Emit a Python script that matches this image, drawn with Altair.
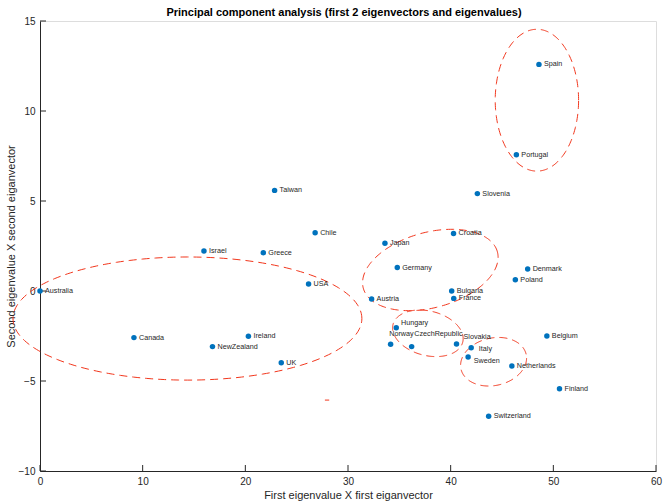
import altair as alt
import pandas as pd
import numpy as np

# ---------------- data ----------------
countries = ["Australia", "Canada", "Ireland", "NewZealand", "UK", "Israel", "Greece",
             "Taiwan", "Chile", "USA", "Japan", "Germany", "Austria", "Croatia",
             "Slovenia", "Bulgaria", "France", "Denmark", "Poland", "Spain", "Portugal",
             "Hungary", "Norway", "CzechRepublic", "Slovakia", "Italy", "Sweden",
             "Netherlands", "Belgium", "Finland", "Switzerland"]
pc1 = [0.0, 9.15, 20.3, 16.8, 23.5, 15.97, 21.75,
       22.85, 26.8, 26.16, 33.6, 34.8, 32.3, 40.28,
       42.6, 40.1, 40.3, 47.5, 46.3, 48.6, 46.4,
       34.7, 34.15, 36.2, 40.57, 42.0, 41.7,
       45.96, 49.37, 50.6, 43.7]
pc2 = [0.0, -2.59, -2.52, -3.09, -3.98, 2.22, 2.13,
       5.59, 3.24, 0.39, 2.65, 1.3, -0.44, 3.2,
       5.41, 0.0, -0.41, 1.22, 0.63, 12.59, 7.57,
       -2.04, -2.96, -3.09, -2.94, -3.15, -3.67,
       -4.17, -2.5, -5.43, -6.96]

x_ticks = [0, 10, 20, 30, 40, 50, 60]
y_ticks = [-10, -5, 0, 5, 10, 15]

# dashed cluster ellipses: centre and two semi-axis vectors (data units)
ell_cx = [48.4, 14.36, 38.02, 37.78, 44.18]
ell_cy = [10.6, -1.53, 1.167, -2.35, -3.93]
ell_ax = [4.06, 16.99, 6.53, 3.395, 3.172]
ell_ay = [0.0, 0.0, 1.012, -0.490, 0.413]
ell_bx = [0.0, 0.0, -0.962, 0.531, -0.514]
ell_by = [3.94, 3.42, 2.021, 1.198, 1.285]

# small stray dash below the large ellipse
stray_x = [27.75, 28.17]
stray_y = [-6.06, -6.06]

title_text = "Principal component analysis (first 2 eigenvectors and eigenvalues)"
x_title = "First eigenvalue X first eiganvector"
y_title = "Second eigenvalue X second eiganvector"

# ---------------- layout / style ----------------
W, H = 616, 450
X_DOM, Y_DOM = [0, 60], [-10, 15]
px_x = W / (X_DOM[1] - X_DOM[0])
px_y = H / (Y_DOM[1] - Y_DOM[0])
FONT = "Liberation Sans"
INK = "#262626"
RED = "#f2361c"
BLUE = "#0072BD"

# label offsets in pixels (default: right of point)
label_offsets = {"Hungary": (4.7, -5), "Norway": (-1.4, -10), "CzechRepublic": (2.6, -12.4),
                 "Slovakia": (7, -6.7), "Italy": (7.6, 1), "Sweden": (5.7, 3.7)}

pts = pd.DataFrame({"country": countries, "x": pc1, "y": pc2})
lx, ly = [], []
for c, x, y in zip(countries, pc1, pc2):
    dx, dy = label_offsets.get(c, (5, 0))
    lx.append(x + dx / px_x)
    ly.append(y - dy / px_y)
pts["lx"] = lx
pts["ly"] = ly

rows = []
t = np.linspace(0, 2 * np.pi, 241)
for i in range(len(ell_cx)):
    for k, tt in enumerate(t):
        rows.append({"id": i, "k": k,
                     "x": ell_cx[i] + ell_ax[i] * np.cos(tt) + ell_bx[i] * np.sin(tt),
                     "y": ell_cy[i] + ell_ay[i] * np.cos(tt) + ell_by[i] * np.sin(tt)})
for k in range(len(stray_x)):
    rows.append({"id": 99, "k": k, "x": stray_x[k], "y": stray_y[k]})
ell = pd.DataFrame(rows)

xs = alt.Scale(domain=X_DOM, nice=False, zero=False)
ys = alt.Scale(domain=Y_DOM, nice=False, zero=False)
ax_x = alt.Axis(values=x_ticks, ticks=False, grid=False, domainColor=INK, domainWidth=1,
                labelFont=FONT, labelFontSize=10, labelColor=INK, labelPadding=5,
                title=x_title, titleFont=FONT, titleFontSize=11, titleFontWeight="normal",
                titleColor=INK, titlePadding=3, labelFlush=False, labelOverlap=False)
ax_y = alt.Axis(values=y_ticks, ticks=False, grid=False, domainColor=INK, domainWidth=1,
                labelFont=FONT, labelFontSize=10, labelColor=INK, labelPadding=5,
                title=y_title, titleFont=FONT, titleFontSize=11, titleFontWeight="normal",
                titleColor=INK, titlePadding=2, labelFlush=False, labelOverlap=False)

X = lambda f: alt.X(f, type="quantitative", scale=xs, axis=ax_x)
Y = lambda f: alt.Y(f, type="quantitative", scale=ys, axis=ax_y)

ellipses = alt.Chart(ell).mark_line(stroke=RED, strokeWidth=1, strokeDash=[8, 5],
                                    clip=False).encode(
    x=X("x"), y=Y("y"), detail="id:N", order="k:Q")

dots = alt.Chart(pts).mark_circle(size=30, color=BLUE, opacity=1).encode(x=X("x"), y=Y("y"))

labels = alt.Chart(pts).mark_text(align="left", baseline="middle", font=FONT,
                                  fontSize=7.2, color=INK).encode(
    x=X("lx"), y=Y("ly"), text="country:N")

xt = alt.Chart(pd.DataFrame({"v": x_ticks})).mark_rule(color=INK, strokeWidth=1).encode(
    x=X("v"), y=alt.value(H), y2=alt.value(H - 6))
yt = alt.Chart(pd.DataFrame({"v": y_ticks})).mark_rule(color=INK, strokeWidth=1).encode(
    y=Y("v"), x=alt.value(0), x2=alt.value(6))

chart = alt.layer(ellipses, xt, yt, dots, labels).properties(
    width=W, height=H,
    title=alt.TitleParams(text=title_text, font=FONT, fontSize=11, fontWeight="bold",
                          color="#000000", anchor="middle", offset=5, dx=-4, dy=7),
    autosize=alt.AutoSizeParams(type="none"),
    padding={"left": 40, "top": 21, "right": 7, "bottom": 30},
).configure_view(stroke=None).configure(background="white")

chart.save("out.html", embed_options={"renderer": "svg", "actions": False})
